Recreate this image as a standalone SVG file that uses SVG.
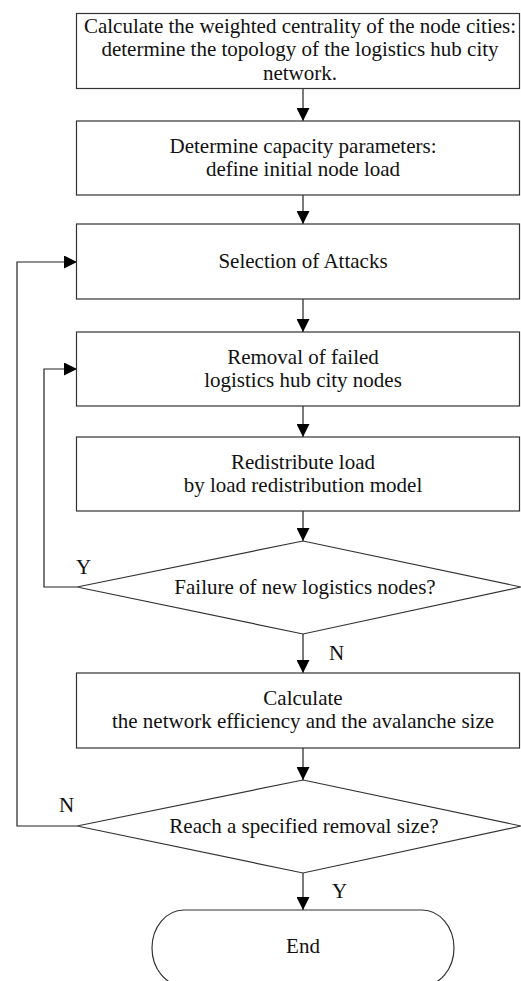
<svg xmlns="http://www.w3.org/2000/svg" width="521" height="981" viewBox="0 0 521 981">
<defs>
<style>
.box{fill:#fff;stroke:#333;stroke-width:1.2}
.t{font-family:"Liberation Serif","Times New Roman",serif;font-size:21px;fill:#111;text-anchor:middle}
.l{font-family:"Liberation Serif","Times New Roman",serif;font-size:21px;fill:#111}
.c{fill:none;stroke:#222;stroke-width:1.2}
</style>
<marker id="ah" viewBox="0 0 13 13" refX="13" refY="6.5" markerWidth="13" markerHeight="13" markerUnits="userSpaceOnUse" orient="auto">
<path d="M0,0 L13,6.5 L0,13 Z" fill="#000"/>
</marker>
</defs>
<rect width="521" height="981" fill="#fff"/>
<g id="connectors">
<line class="c" x1="303" y1="88" x2="303" y2="121" marker-end="url(#ah)"/>
<line class="c" x1="303" y1="195" x2="303" y2="224" marker-end="url(#ah)"/>
<line class="c" x1="303" y1="299" x2="303" y2="332" marker-end="url(#ah)"/>
<line class="c" x1="303" y1="406" x2="303" y2="437" marker-end="url(#ah)"/>
<line class="c" x1="303" y1="511" x2="303" y2="541" marker-end="url(#ah)"/>
<line class="c" x1="303" y1="634" x2="303" y2="673" marker-end="url(#ah)"/>
<line class="c" x1="303" y1="748" x2="303" y2="780" marker-end="url(#ah)"/>
<line class="c" x1="303" y1="873" x2="303" y2="910" marker-end="url(#ah)"/>
<polyline class="c" points="77,587 44,587 44,369 77,369" marker-end="url(#ah)"/>
<polyline class="c" points="77,826 17,826 17,262 77,262" marker-end="url(#ah)"/>
<text class="l" x="76" y="574">Y</text>
<text class="l" x="329" y="660">N</text>
<text class="l" x="59" y="812">N</text>
<text class="l" x="332" y="898">Y</text>
</g>
<g id="n1">
<rect class="box" x="76.5" y="13.5" width="443" height="75"/>
<text class="t" x="300" y="33">Calculate the weighted centrality of the node cities:</text>
<text class="t" x="300" y="56">determine the topology of the logistics hub city</text>
<text class="t" x="300" y="80">network.</text>
</g>
<g id="n2">
<rect class="box" x="76.5" y="121" width="443" height="74"/>
<text class="t" x="303" y="153">Determine capacity parameters:</text>
<text class="t" x="303" y="176">define initial node load</text>
</g>
<g id="n3">
<rect class="box" x="76.5" y="224" width="443" height="75"/>
<text class="t" x="303" y="268">Selection of Attacks</text>
</g>
<g id="n4">
<rect class="box" x="76.5" y="332" width="443" height="74"/>
<text class="t" x="303" y="364">Removal of failed</text>
<text class="t" x="303" y="387">logistics hub city nodes</text>
</g>
<g id="n5">
<rect class="box" x="76.5" y="437" width="443" height="74"/>
<text class="t" x="303" y="469">Redistribute load</text>
<text class="t" x="303" y="492">by load redistribution model</text>
</g>
<g id="n6">
<polygon class="box" points="303,541 521,587 303,634 77,587"/>
<text class="t" x="305" y="594">Failure of new logistics nodes?</text>
</g>
<g id="n7">
<rect class="box" x="76.5" y="673" width="443" height="75"/>
<text class="t" x="303" y="705">Calculate</text>
<text class="t" x="303" y="728">the network efficiency and the avalanche size</text>
</g>
<g id="n8">
<polygon class="box" points="303,780 521,826 303,873 77,826"/>
<text class="t" x="304" y="833">Reach a specified removal size?</text>
</g>
<g id="n9">
<rect class="box" x="152" y="910" width="302" height="76" rx="32" ry="38"/>
<text class="t" x="303" y="953">End</text>
</g>
</svg>
